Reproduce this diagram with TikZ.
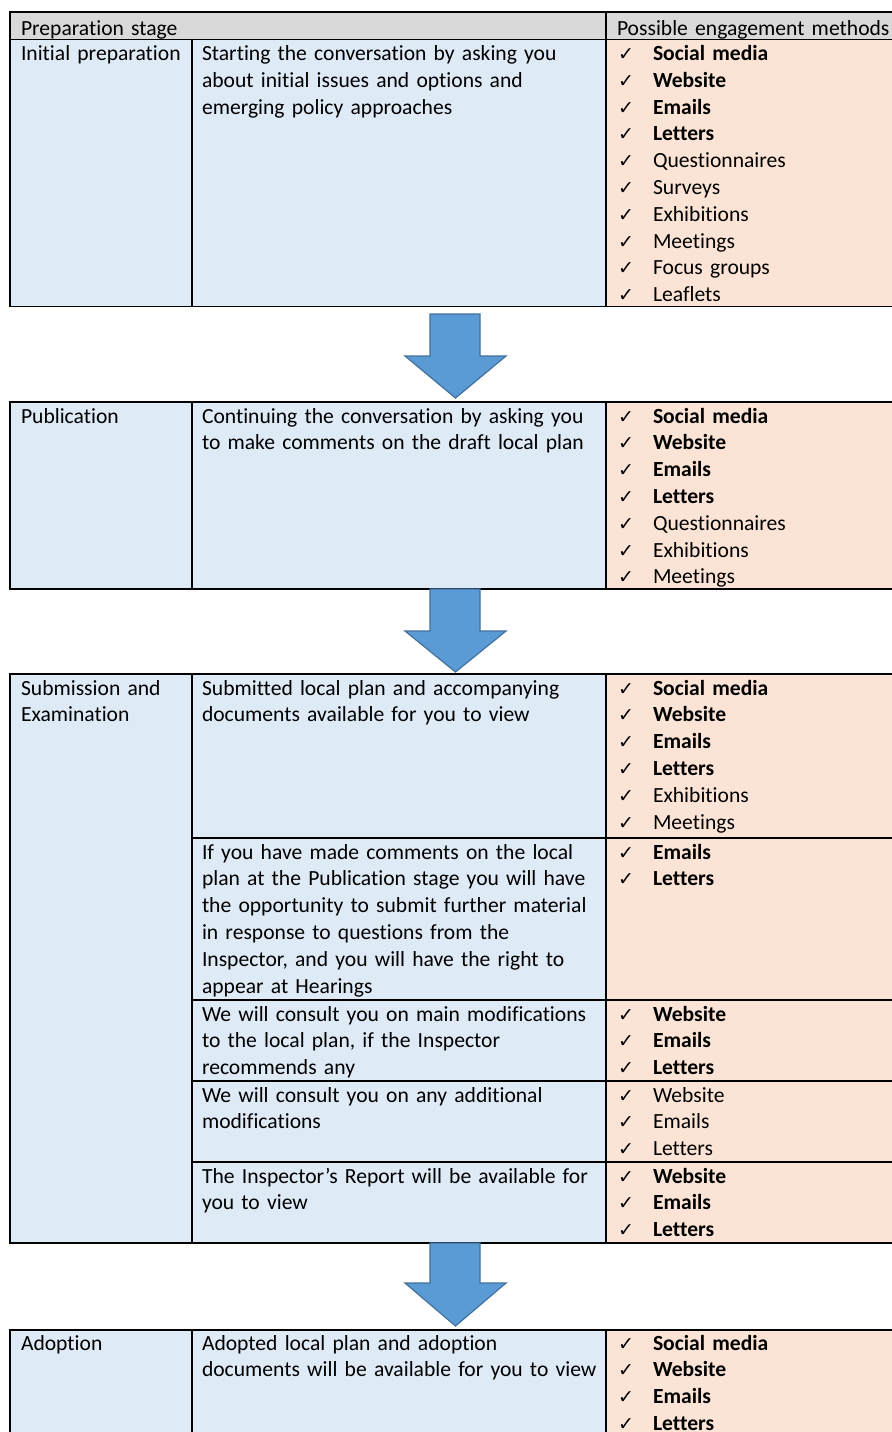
\documentclass[tikz,border=0pt]{standalone}
\usepackage{fontspec}
\setmainfont{Carlito}[Ligatures=NoCommon]
\newfontfamily\dejavu{DejaVu Sans}
\definecolor{hdr}{HTML}{D9D9D9}
\definecolor{blu}{HTML}{DEEAF6}
\definecolor{pch}{HTML}{FBE4D5}
\definecolor{arrf}{HTML}{5B9BD5}
\definecolor{arrd}{HTML}{41719C}
\newcommand\tick{{\dejavu\fontsize{9.5pt}{9.5pt}\selectfont ✓}}
\newcommand\mitem[1]{\makebox[17.5pt][l]{\tick}#1}
\newcommand\bitem[1]{\mitem{\textbf{#1}}}
\tikzset{
  grid/.style={line width=0.75pt, black},
  txt/.style={anchor=base west, align=left, text width=#1},
  txt/.default=240pt,
  blockarrow/.style={fill=arrf, draw=arrd, line width=0.6pt, line join=miter}
}
\newcommand\downarrowshape[3]{% shaft top, head top, tip
  \draw[blockarrow] (430,#1) -- (480,#1) -- (480,#2) -- (506,#2) -- (455.5,#3) -- (405,#2) -- (430,#2) -- cycle;}
\begin{document}
\begin{tikzpicture}[x=0.5pt,y=-0.5pt, every node/.style={inner sep=0pt, outer sep=0pt},
  font=\fontsize{10.8pt}{13.4pt}\selectfont]
\clip (0,0) rectangle (892,1432);
\fill[white] (0,0) rectangle (892,1432);

% ---------------- Table 1 ----------------
\fill[hdr] (10,12) rectangle (892,39.5);
\fill[blu] (10,39.5) rectangle (606,306.5);
\fill[pch] (606,39.5) rectangle (892,306.5);
\draw[grid] (892,12) -- (10,12) -- (10,306.5) -- (892,306.5);
\draw[grid] (10,39.5) -- (892,39.5);
\draw[grid] (606,12) -- (606,306.5);
\draw[grid] (192,39.5) -- (192,306.5);
\node[txt] (h1) at (21,35) {Preparation stage};
\node[txt=150pt] (h2) at (617,35) {Possible engagement methods};
\node[txt=85pt] (a1) at (21,60.5) {Initial preparation};
\node[txt] (a2) at (202,60.5) {Starting the conversation by asking you\\about initial issues and options and\\emerging policy approaches};
\node[txt=140pt] (a3) at (618,60.5) {\bitem{Social media}\\\bitem{Website}\\\bitem{Emails}\\\bitem{Letters}\\\mitem{Questionnaires}\\\mitem{Surveys}\\\mitem{Exhibitions}\\\mitem{Meetings}\\\mitem{Focus groups}\\\mitem{Leaflets}};

\downarrowshape{314}{356}{398}

% ---------------- Table 2 ----------------
\fill[blu] (10,402) rectangle (606,589);
\fill[pch] (606,402) rectangle (892,589);
\draw[grid] (892,402) -- (10,402) -- (10,589) -- (892,589);
\draw[grid] (192,402) -- (192,589);
\draw[grid] (606,402) -- (606,589);
\node[txt=85pt] (b1) at (21,423) {Publication};
\node[txt] (b2) at (202,423) {Continuing the conversation by asking you\\to make comments on the draft local plan};
\node[txt=140pt] (b3) at (618,423) {\bitem{Social media}\\\bitem{Website}\\\bitem{Emails}\\\bitem{Letters}\\\mitem{Questionnaires}\\\mitem{Exhibitions}\\\mitem{Meetings}};

\downarrowshape{589}{631}{672}

% ---------------- Table 3 ----------------
\fill[blu] (10,674) rectangle (606,1243);
\fill[pch] (606,674) rectangle (892,1243);
\draw[grid] (892,674) -- (10,674) -- (10,1243) -- (892,1243);
\draw[grid] (192,674) -- (192,1243);
\draw[grid] (606,674) -- (606,1243);
\draw[grid] (192,838) -- (892,838);
\draw[grid] (192,1000) -- (892,1000);
\draw[grid] (192,1081) -- (892,1081);
\draw[grid] (192,1162) -- (892,1162);
\node[txt=85pt] (c1) at (21,695) {Submission and\\Examination};
\node[txt] (c2) at (202,695) {Submitted local plan and accompanying\\documents available for you to view};
\node[txt=140pt] (c3) at (618,695) {\bitem{Social media}\\\bitem{Website}\\\bitem{Emails}\\\bitem{Letters}\\\mitem{Exhibitions}\\\mitem{Meetings}};
\node[txt] (d2) at (202,859) {If you have made comments on the local\\plan at the Publication stage you will have\\the opportunity to submit further material\\in response to questions from the\\Inspector, and you will have the right to\\appear at Hearings};
\node[txt=140pt] (d3) at (618,859) {\bitem{Emails}\\\bitem{Letters}};
\node[txt] (e2) at (202,1021) {We will consult you on main modifications\\to the local plan, if the Inspector\\recommends any};
\node[txt=140pt] (e3) at (618,1021) {\bitem{Website}\\\bitem{Emails}\\\bitem{Letters}};
\node[txt] (f2) at (202,1102) {We will consult you on any additional\\modifications};
\node[txt=140pt] (f3) at (618,1102) {\mitem{Website}\\\mitem{Emails}\\\mitem{Letters}};
\node[txt] (g2) at (202,1183) {The Inspector’s Report will be available for\\you to view};
\node[txt=140pt] (g3) at (618,1183) {\bitem{Website}\\\bitem{Emails}\\\bitem{Letters}};

\downarrowshape{1243}{1283}{1326}

% ---------------- Table 4 ----------------
\fill[blu] (10,1330) rectangle (606,1450);
\fill[pch] (606,1330) rectangle (892,1450);
\draw[grid] (892,1330) -- (10,1330) -- (10,1450);
\draw[grid] (192,1330) -- (192,1450);
\draw[grid] (606,1330) -- (606,1450);
\node[txt=85pt] (k1) at (21,1350) {Adoption};
\node[txt] (k2) at (202,1350) {Adopted local plan and adoption\\documents will be available for you to view};
\node[txt=140pt] (k3) at (618,1350) {\bitem{Social media}\\\bitem{Website}\\\bitem{Emails}\\\bitem{Letters}};
\end{tikzpicture}
\end{document}
